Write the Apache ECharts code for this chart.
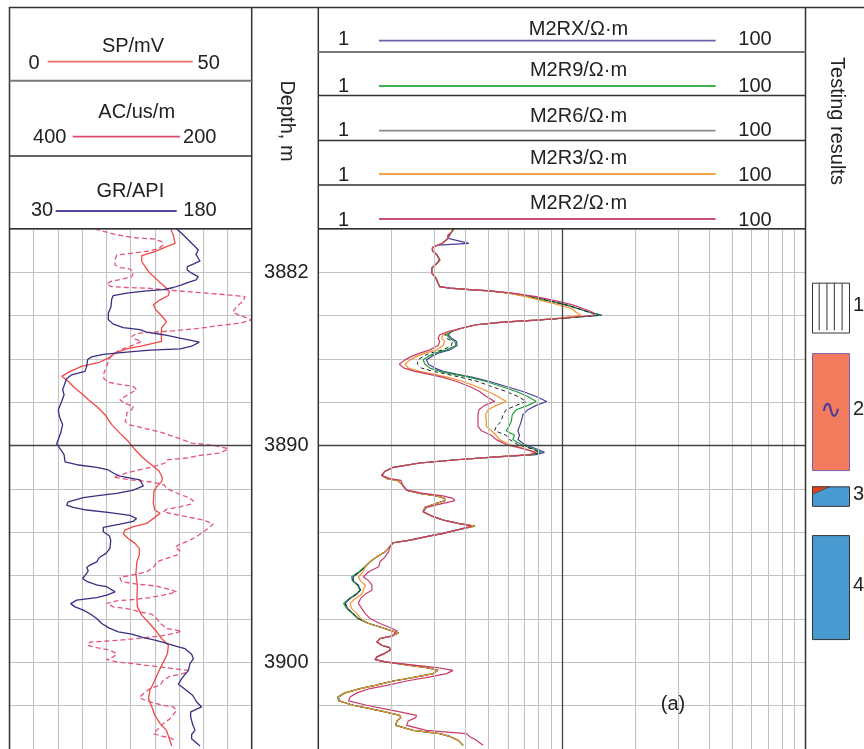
<!DOCTYPE html>
<html><head><meta charset="utf-8">
<script src="https://cdn.jsdelivr.net/npm/echarts@6/dist/echarts.min.js"></script>
<style>html,body{margin:0;padding:0;background:#fff}#c{width:864px;height:749px}</style>
</head><body><div id="c"></div>
<script>
// ---------- scales ----------
const spRange = [0, 50];
const acRange = [400, 200];
const grRange = [30, 180];
const resRange = [1, 100];
const depthRange = [3880, 3904];
const depthTicks = [3882, 3890, 3900];
const depthMajor = [3890];
const resGridMinor = [2, 3, 4, 5, 6, 7, 8, 9, 20, 30, 40, 50, 60, 70, 80, 90];
const resGridMajor = [10];
const resNames = ['M2RX/\u03A9\u00B7m', 'M2R9/\u03A9\u00B7m', 'M2R6/\u03A9\u00B7m', 'M2R3/\u03A9\u00B7m', 'M2R2/\u03A9\u00B7m'];

// ---------- SP ----------
const spDepth = [3880.0,3880.28,3880.66,3880.81,3881.04,3881.23,3881.5,3881.74,3881.97,3882.2,
3882.43,3882.66,3882.89,3883.07,3883.27,3883.5,3883.73,3883.96,3884.27,3884.58,
3884.88,3885.19,3885.38,3885.53,3885.73,3885.96,3886.14,3886.34,3886.57,3886.8,
3887.03,3887.34,3887.65,3887.88,3888.19,3888.57,3889.03,3889.42,3889.8,3890.18,
3890.57,3890.88,3891.18,3891.49,3891.66,3891.89,3892.12,3892.66,3892.97,3893.12,
3893.31,3893.59,3893.74,3893.9,3894.08,3894.28,3894.51,3894.74,3895.05,3895.36,
3895.9,3896.51,3897.05,3897.44,3897.82,3898.21,3898.59,3898.9,3899.21,3899.6,
3899.98,3900.37,3900.83,3901.29,3901.68,3902.06,3902.45,3902.83,3903.14,3903.6,
3903.86];
const spValue = [33.3,33.8,34.2,32.4,30.0,27.3,27.3,28.0,28.7,29.8,
30.9,32.1,33.0,32.8,31.1,29.7,30.2,31.2,32.4,31.4,
31.3,31.4,27.6,24.2,21.8,20.4,18.7,14.9,12.5,10.8,
12.1,13.5,15.2,16.3,18.0,19.7,21.1,22.8,24.5,25.9,
27.6,29.3,30.9,31.6,31.4,30.4,29.8,29.7,30.0,31.1,
30.0,28.3,25.6,23.8,23.5,24.5,25.9,26.8,26.8,26.3,
26.1,26.4,26.3,26.4,27.3,28.9,30.4,31.4,32.8,32.6,
31.8,30.9,30.0,29.0,28.7,29.4,30.0,31.1,32.4,33.1,
33.5];

// ---------- GR ----------
const grDepth = [3880.0,3880.2,3880.43,3880.66,3880.81,3880.97,3881.17,3881.35,3881.47,3881.6,
3881.74,3881.89,3882.04,3882.2,3882.35,3882.46,3882.58,3882.7,3882.8,3882.86,
3882.96,3883.07,3883.23,3883.58,3883.89,3884.19,3884.39,3884.55,3884.64,3884.76,
3884.88,3885.04,3885.22,3885.41,3885.53,3885.59,3885.68,3885.79,3885.9,3886.02,
3886.34,3886.57,3886.73,3886.91,3887.11,3887.42,3887.65,3887.96,3888.34,3888.65,
3889.03,3889.42,3889.72,3889.92,3890.14,3890.41,3890.75,3890.88,3891.0,3891.12,
3891.26,3891.41,3891.58,3891.86,3892.05,3892.2,3892.29,3892.4,3892.59,3892.74,
3892.85,3892.97,3893.09,3893.22,3893.36,3893.49,3893.62,3893.77,3893.97,3894.16,
3894.36,3894.74,3894.97,3895.16,3895.36,3895.51,3895.62,3895.78,3895.93,3896.13,
3896.28,3896.44,3896.51,3896.75,3896.9,3897.01,3897.13,3897.29,3897.44,3897.59,
3897.78,3897.98,3898.21,3898.4,3898.59,3898.7,3898.86,3898.98,3899.1,3899.26,
3899.37,3899.63,3899.83,3900.06,3900.37,3900.75,3901.01,3901.21,3901.52,3901.83,
3902.06,3902.29,3902.52,3902.86,3903.14,3903.33,3903.53,3903.86];
const grValue = [133.5,136.6,139.7,142.8,144.9,146.9,145.5,146.9,148.0,144.5,
140.1,140.1,142.8,146.9,145.5,140.8,136.6,131.5,125.3,114.9,
102.6,94.3,93.3,92.9,91.2,91.2,94.3,100.5,110.8,114.9,
125.3,135.6,147.6,142.8,135.6,117.0,102.6,88.1,80.9,78.4,
77.8,76.7,68.5,65.4,64.4,62.9,63.8,62.3,60.2,60.9,
62.9,61.7,60.2,59.2,61.3,63.8,64.4,71.6,84.0,91.2,
94.3,98.4,110.8,112.9,106.7,96.4,86.0,75.7,66.4,65.4,
69.5,77.8,92.2,104.6,108.7,106.7,98.4,88.1,88.1,91.8,
92.7,92.2,89.8,85.6,84.0,79.8,77.8,78.8,77.4,75.3,
78.2,84.4,90.2,95.4,90.2,84.0,71.6,67.9,70.6,75.7,
80.3,84.0,87.1,91.2,97.4,105.7,112.9,120.1,126.3,133.5,
138.7,142.8,143.9,141.8,140.8,136.6,134.6,138.1,143.4,145.9,
149.0,142.2,142.2,143.4,144.9,142.8,142.8,148.0];

// ---------- AC ----------
const acDepth = [3880.0,3880.25,3880.4,3880.46,3880.58,3880.74,3880.89,3881.01,3881.11,3881.2,
3881.43,3881.66,3881.78,3881.84,3882.0,3882.2,3882.3,3882.43,3882.55,3882.66,
3882.7,3882.73,3882.81,3882.89,3882.96,3883.04,3883.12,3883.32,3883.58,3883.84,
3883.99,3884.19,3884.35,3884.45,3884.58,3884.7,3884.76,3884.82,3884.96,3885.07,
3885.19,3885.3,3885.42,3885.58,3885.73,3885.93,3886.14,3886.42,3886.73,3886.91,
3887.07,3887.16,3887.27,3887.42,3887.57,3887.73,3887.88,3888.03,3888.19,3888.34,
3888.49,3888.72,3888.88,3889.03,3889.12,3889.22,3889.37,3889.52,3889.68,3889.88,
3889.98,3890.14,3890.34,3890.45,3890.57,3890.66,3890.8,3890.95,3891.11,3891.26,
3891.45,3891.58,3891.68,3891.8,3891.97,3892.12,3892.28,3892.39,3892.54,3892.69,
3892.82,3892.94,3893.05,3893.16,3893.28,3893.43,3893.62,3893.82,3894.02,3894.2,
3894.43,3894.54,3894.7,3894.85,3895.05,3895.2,3895.36,3895.59,3895.82,3895.93,
3896.08,3896.28,3896.39,3896.48,3896.64,3896.75,3896.9,3897.01,3897.1,3897.16,
3897.28,3897.44,3897.52,3897.67,3897.78,3897.98,3898.21,3898.44,3898.56,3898.67,
3898.79,3898.87,3898.95,3899.01,3899.07,3899.21,3899.32,3899.44,3899.6,3899.75,
3899.87,3899.98,3900.06,3900.14,3900.21,3900.29,3900.37,3900.52,3900.64,3900.83,
3901.06,3901.21,3901.45,3901.63,3901.78,3901.98,3902.06,3902.22,3902.4,3902.6,
3902.83,3903.14,3903.29,3903.39,3903.48,3903.63];
const acValue = [329.4,312.9,297.7,281.2,274.4,273.0,276.3,284.0,297.7,311.5,
312.9,312.9,308.2,300.5,297.7,299.1,306.0,317.0,319.8,315.6,
303.2,286.7,270.2,253.7,237.2,220.7,205.5,206.9,212.4,215.7,
209.7,200.0,209.7,226.2,242.7,264.7,281.2,295.0,299.1,296.4,
290.9,295.6,300.5,308.8,312.9,317.0,318.4,320.3,322.5,322.0,
318.4,310.1,297.7,295.0,299.9,304.6,308.8,305.5,297.7,299.1,
303.2,303.2,304.6,301.8,295.0,286.7,275.7,267.5,259.2,249.6,
231.7,219.4,226.2,242.7,253.7,270.2,271.6,279.9,292.3,303.2,
314.3,300.0,282.0,272.5,270.2,264.7,257.8,252.3,248.2,249.6,
259.2,270.2,273.0,264.7,253.7,239.9,231.7,235.8,241.3,245.4,
253.7,259.2,263.3,259.2,261.9,270.2,278.5,280.7,286.7,295.0,
308.8,307.4,295.0,278.5,267.5,262.0,273.0,284.0,297.7,311.5,
319.8,314.3,303.2,292.3,282.6,278.5,275.2,270.2,257.8,264.7,
275.7,289.5,303.2,317.0,333.5,335.7,328.0,317.0,311.5,314.3,
319.8,311.5,297.7,286.7,275.7,264.7,252.3,256.4,267.5,273.0,
275.7,284.0,289.5,292.8,286.7,273.0,264.7,262.0,264.7,267.5,
273.0,278.5,281.2,275.7,267.5,262.0];

// ---------- resistivity ----------
const resDepth = [3880.0,3880.15,3880.28,3880.43,3880.66,3880.74,3880.86,3881.01,3881.2,3881.43,
3881.63,3881.81,3882.04,3882.27,3882.5,3882.66,3882.73,3882.8,3882.86,3882.96,
3883.12,3883.32,3883.5,3883.69,3883.84,3883.98,3884.12,3884.21,3884.3,3884.42,
3884.58,3884.73,3884.88,3885.04,3885.19,3885.38,3885.58,3885.73,3885.88,3886.04,
3886.24,3886.42,3886.57,3886.7,3886.85,3887.04,3887.27,3887.5,3887.73,3887.96,
3888.14,3888.34,3888.57,3888.88,3889.11,3889.31,3889.52,3889.72,3889.95,3890.14,
3890.31,3890.41,3890.52,3890.65,3890.8,3891.0,3891.18,3891.37,3891.52,3891.6,
3891.82,3892.05,3892.2,3892.32,3892.43,3892.54,3892.66,3892.85,3893.05,3893.25,
3893.43,3893.59,3893.71,3893.86,3894.05,3894.2,3894.36,3894.48,3894.67,3894.9,
3895.13,3895.36,3895.59,3895.82,3896.05,3896.24,3896.44,3896.67,3896.85,3897.05,
3897.28,3897.52,3897.75,3897.98,3898.21,3898.39,3898.55,3898.64,3898.79,3898.9,
3899.06,3899.21,3899.32,3899.44,3899.6,3899.75,3899.87,3899.98,3900.14,3900.24,
3900.37,3900.52,3900.67,3900.86,3901.06,3901.21,3901.41,3901.6,3901.78,3901.98,
3902.14,3902.29,3902.45,3902.55,3902.71,3902.91,3903.14,3903.29,3903.42,3903.6,
3903.83];
const m2rx = [3.60,3.52,3.46,3.41,4.15,3.10,2.94,2.94,3.07,3.15,
3.04,2.92,2.92,3.04,3.10,3.15,3.46,4.18,5.05,6.09,
7.35,8.88,10.38,11.77,12.93,14.6,10.06,7.83,5.72,4.45,
3.86,3.52,3.41,3.52,3.69,3.71,3.46,3.10,2.92,2.78,
2.83,3.01,3.25,3.69,4.31,5.05,5.90,6.91,7.83,8.65,
7.83,7.24,6.91,6.80,6.69,6.59,6.69,6.59,7.02,7.83,
8.47,7.83,5.37,3.69,2.61,2.03,1.88,1.82,1.91,2.11,
2.22,2.30,2.61,3.06,3.30,3.30,3.06,2.74,2.69,2.92,
3.25,3.75,4.38,3.80,3.25,2.78,2.38,2.03,1.96,1.88,
1.74,1.63,1.56,1.48,1.39,1.39,1.46,1.49,1.44,1.35,
1.29,1.32,1.39,1.46,1.61,1.82,2.00,2.13,2.00,1.79,
1.74,1.82,1.96,1.97,1.86,1.74,1.71,1.88,2.38,2.78,
3.10,2.96,2.53,2.03,1.71,1.49,1.29,1.21,1.22,1.39,
1.63,1.88,2.16,2.18,2.10,2.08,2.45,3.15,3.46,3.75,
3.93];
const m2r9 = [3.55,3.52,3.41,3.41,3.23,3.10,2.94,2.94,3.07,3.15,
3.04,2.92,2.92,3.04,3.10,3.15,3.46,4.18,5.05,6.09,
7.35,8.88,10.38,11.77,12.93,14.4,10.06,7.83,5.72,4.45,
3.86,3.52,3.36,3.46,3.63,3.67,3.36,3.01,2.83,2.69,
2.74,2.87,3.15,3.57,4.18,4.89,5.63,6.49,7.24,7.83,
7.24,6.49,6.25,6.19,6.05,5.90,6.38,6.28,6.80,7.59,
8.20,7.59,5.37,3.69,2.61,2.03,1.88,1.82,1.91,2.11,
2.22,2.30,2.61,3.06,3.30,3.30,3.06,2.74,2.69,2.92,
3.25,3.75,4.38,3.80,3.25,2.78,2.38,2.03,1.96,1.88,
1.74,1.63,1.55,1.47,1.37,1.38,1.45,1.48,1.43,1.34,
1.27,1.31,1.38,1.45,1.61,1.82,2.00,2.13,2.00,1.79,
1.74,1.82,1.96,1.97,1.86,1.74,1.71,1.88,2.38,2.78,
3.10,2.96,2.53,2.03,1.71,1.48,1.28,1.20,1.21,1.39,
1.63,1.88,2.16,2.18,2.10,2.08,2.45,3.15,3.46,3.75,
3.93];
const m2r6 = [3.57,3.52,3.41,3.41,3.23,3.10,2.94,2.94,3.07,3.15,
3.04,2.92,2.92,3.04,3.10,3.15,3.46,4.18,5.05,6.09,
7.35,8.88,10.38,11.77,12.93,14.1,10.06,7.83,5.72,4.45,
3.86,3.52,3.30,3.36,3.55,3.52,3.25,2.87,2.69,2.57,
2.55,2.65,2.96,3.36,3.86,4.52,5.13,5.90,6.59,7.13,
6.49,5.90,5.72,5.63,5.37,5.29,5.90,6.09,6.59,7.47,
8.08,7.59,5.37,3.69,2.61,2.03,1.88,1.82,1.91,2.11,
2.22,2.30,2.61,3.06,3.30,3.30,3.06,2.74,2.69,2.92,
3.25,3.75,4.38,3.80,3.25,2.78,2.38,2.03,1.96,1.88,
1.74,1.63,1.56,1.48,1.39,1.39,1.46,1.49,1.44,1.35,
1.29,1.32,1.39,1.46,1.61,1.82,2.00,2.13,2.00,1.79,
1.74,1.82,1.96,1.97,1.86,1.74,1.71,1.88,2.38,2.78,
3.10,2.96,2.53,2.03,1.71,1.49,1.29,1.21,1.22,1.39,
1.63,1.88,2.16,2.18,2.10,2.08,2.45,3.15,3.46,3.75,
3.93];
const m2r3 = [3.52,3.52,3.41,3.41,3.23,3.10,2.94,2.94,3.07,3.15,
3.04,2.92,2.92,3.04,3.10,3.15,3.46,4.18,5.05,5.99,
7.13,8.33,9.75,11.05,11.40,11.96,9.45,7.83,5.72,4.45,
3.86,3.46,3.25,3.20,3.30,3.25,3.06,2.74,2.53,2.38,
2.27,2.34,2.61,2.96,3.41,3.93,4.45,4.97,5.46,5.90,
5.37,4.97,4.86,4.89,4.89,5.13,5.37,5.54,6.09,7.02,
7.71,7.35,5.37,3.69,2.61,2.03,1.88,1.82,1.91,2.11,
2.22,2.30,2.61,3.06,3.30,3.30,3.06,2.74,2.69,2.92,
3.25,3.75,4.38,3.80,3.25,2.78,2.38,2.03,1.96,1.88,
1.74,1.63,1.56,1.53,1.46,1.49,1.56,1.53,1.51,1.42,
1.35,1.37,1.44,1.49,1.61,1.82,2.00,2.13,2.00,1.79,
1.74,1.82,1.96,1.97,1.86,1.74,1.71,1.88,2.38,2.78,
3.10,2.96,2.53,2.03,1.71,1.49,1.29,1.21,1.22,1.39,
1.63,1.88,2.16,2.18,2.10,2.08,2.45,3.15,3.46,3.75,
3.93];
const m2r2 = [3.60,3.52,3.41,3.41,3.23,3.10,2.94,2.94,3.07,3.15,
3.04,2.92,2.92,3.04,3.10,3.15,3.46,4.18,5.05,6.28,
7.83,9.45,11.05,12.33,13.34,13.50,10.06,7.83,5.72,4.45,
3.86,3.41,3.15,3.10,3.15,3.10,2.87,2.61,2.41,2.27,
2.15,2.25,2.49,2.83,3.25,3.69,4.18,4.59,4.89,5.29,
4.81,4.56,4.52,4.52,4.52,4.67,5.13,5.37,5.90,6.91,
7.83,7.47,5.37,3.69,2.61,2.03,1.88,1.82,1.97,2.18,
2.22,2.30,2.69,3.25,3.57,3.63,3.25,2.78,2.69,2.92,
3.25,3.75,4.25,3.80,3.25,2.78,2.38,2.03,1.97,1.94,
1.88,1.79,1.77,1.61,1.53,1.61,1.66,1.66,1.56,1.49,
1.46,1.51,1.56,1.63,1.79,1.97,2.11,2.15,2.00,1.79,
1.74,1.82,1.96,1.97,1.86,1.74,1.71,1.88,2.53,3.06,
3.57,3.36,2.87,2.30,1.91,1.63,1.44,1.35,1.33,1.58,
1.85,2.16,2.53,2.51,2.34,2.30,2.78,4.05,4.18,4.45,
4.74];

// ---------- testing results ----------
const testTop = [3882.5, 3885.75, 3891.9, 3894.15];
const testBottom = [3884.8, 3891.15, 3892.8, 3898.95];
const testType = [1, 2, 3, 4];
const testLabels = ['1', '2', '3', '4'];

// ---------- rendering ----------
const F = '"Liberation Sans", Arial, Helvetica, sans-serif';
const GRID = '#c2c2c2';
const DARK = '#333';
const TXT = '#222';

function L(x1, y1, x2, y2, c, w) {
  return {type: 'line', z: 100, silent: true, shape: {x1, y1, x2, y2}, style: {stroke: c || DARK, lineWidth: w || 1.5}};
}
function T(x, y, s, extra) {
  return Object.assign({type: 'text', z: 100, silent: true, x, y,
    style: {text: s, font: '20px ' + F, fill: TXT, align: 'center', verticalAlign: 'middle', textAlign: 'center', textVerticalAlign: 'middle'}}, extra || {});
}

const graphics = [];
// frame
graphics.push(L(9, 7.5, 864, 7.5));
[9.5, 251.7, 318.3, 805.5].forEach(x => graphics.push(L(x, 7, x, 749)));
graphics.push(L(9.5, 80.7, 251.7, 80.7, '#777', 2));
graphics.push(L(9.5, 156, 251.7, 156));
graphics.push(L(9.5, 228.7, 251.7, 228.7));
graphics.push(L(318.3, 52, 805.5, 52, '#777', 2));
[95.5, 140.5, 185, 228.7].forEach(y => graphics.push(L(318.3, y, 805.5, y)));
// left header
graphics.push(T(133, 46, 'SP/mV'), T(34, 63.5, String(spRange[0])), T(208.7, 63.5, String(spRange[1])), L(47.7, 61.7, 192.7, 61.7, '#F26B6B', 1.8));
graphics.push(T(136.7, 112, 'AC/us/m'), T(49.7, 137.5, String(acRange[0])), T(199.7, 137.5, String(acRange[1])), L(72.7, 136.7, 180, 136.7, '#E04A6E', 1.8));
graphics.push(T(130.3, 191, 'GR/API'), T(42, 210.7, String(grRange[0])), T(200, 210.7, String(grRange[1])), L(55.7, 211, 176.7, 211, '#54449A', 1.8));
// resistivity header
const resLegendColors = ['#6B5FA8', '#3DB24E', '#8A8A8A', '#F2A444', '#C54E7C'];
const hdrTitleY = [29, 70.7, 116.7, 158, 203.7];
const hdrLineY = [40.7, 86, 130.7, 174, 219];
const hdrLblY = [39.5, 86.5, 130.5, 175.5, 220.5];
resNames.forEach((n, i) => {
  graphics.push(T(578.5, hdrTitleY[i], n));
  graphics.push(L(379, hdrLineY[i], 715.6, hdrLineY[i], resLegendColors[i], 1.8));
  graphics.push(T(343.6, hdrLblY[i], String(resRange[0])));
  graphics.push(T(755, hdrLblY[i], String(resRange[1])));
});
graphics.push(T(286.5, 121, 'Depth, m', {rotation: -Math.PI / 2}));
graphics.push(T(837, 121, 'Testing results', {rotation: -Math.PI / 2}));
graphics.push(T(673, 704, '(a)'));

function curve(name, xi, yi, depth, vals, color, width, dash, z) {
  return {type: 'line', name, xAxisIndex: xi, yAxisIndex: yi,
    data: depth.map((d, i) => [vals[i], d]),
    symbol: 'none', showSymbol: false, silent: true, animation: false, z: z || 3,
    lineStyle: {color, width, type: dash || 'solid'}};
}

function renderTest(params, api) {
  const cs = params.coordSys;
  const y0 = api.coord([0, api.value(0)])[1];
  const y1 = api.coord([0, api.value(1)])[1];
  const t = api.value(2);
  const x0 = cs.x + 6.5, w = 37, h = y1 - y0;
  const kids = [];
  const fill = t === 1 ? '#ffffff' : (t === 2 ? '#F47C5E' : '#4A9AD2');
  const stroke = t === 2 ? '#7B62A8' : '#333';
  kids.push({type: 'rect', shape: {x: x0, y: y0, width: w, height: h}, style: {fill, stroke, lineWidth: 1}});
  if (t === 1) {
    [0.18, 0.39, 0.59, 0.8].forEach(f => kids.push({type: 'line', shape: {x1: x0 + w * f, y1: y0, x2: x0 + w * f, y2: y1 - 2.7}, style: {stroke: '#333', lineWidth: 1}}));
  }
  if (t === 2) {
    kids.push({type: 'text', x: x0 + w / 2, y: (y0 + y1) / 2 - 1, style: {text: '\u223F', font: '26px "DejaVu Sans", sans-serif', fill: '#4A3A9A', align: 'center', verticalAlign: 'middle', textAlign: 'center', textVerticalAlign: 'middle'}});
  }
  if (t === 3) {
    kids.push({type: 'polygon', shape: {points: [[x0, y0], [x0 + w * 0.46, y0], [x0, y0 + h * 0.38]]}, style: {fill: '#D9441C', stroke: '#333', lineWidth: 0.6}});
  }
  kids.push({type: 'text', x: x0 + w + 3.5, y: (y0 + y1) / 2 - 2.5,
    style: {text: testLabels[params.dataIndex], font: '20px ' + F, fill: TXT, align: 'left', verticalAlign: 'middle', textAlign: 'left', textVerticalAlign: 'middle'}});
  return {type: 'group', children: kids};
}

const noAxis = {axisLine: {show: false}, axisTick: {show: false}, axisLabel: {show: false}};
const option = {
  animation: false,
  backgroundColor: '#ffffff',
  grid: [
    {left: 9.5, top: 229, width: 242.2, height: 522},
    {left: 318.3, top: 229, width: 487.5, height: 522},
    {left: 806, top: 229, width: 58, height: 522}
  ],
  xAxis: [
    Object.assign({gridIndex: 0, type: 'value', min: spRange[0], max: spRange[1], interval: 5, position: 'top',
      splitLine: {show: true, lineStyle: {color: GRID, width: 1.1}}}, noAxis),
    {gridIndex: 0, type: 'value', min: acRange[1], max: acRange[0], inverse: true, show: false},
    {gridIndex: 0, type: 'value', min: grRange[0], max: grRange[1], show: false},
    {gridIndex: 1, type: 'log', logBase: 10, min: resRange[0], max: resRange[1], show: false},
    {gridIndex: 2, type: 'value', min: 0, max: 58, show: false}
  ],
  yAxis: [
    Object.assign({gridIndex: 0, type: 'value', inverse: true, min: depthRange[0], max: depthRange[1], interval: 2,
      splitLine: {show: true, lineStyle: {color: GRID, width: 1.1}}}, noAxis),
    {gridIndex: 1, type: 'value', inverse: true, min: depthRange[0], max: depthRange[1], interval: 2,
      axisLine: {show: false}, axisTick: {show: false},
      axisLabel: {show: true, margin: 32, align: 'center', fontSize: 20, fontFamily: F, color: TXT,
        formatter: v => depthTicks.indexOf(v) >= 0 ? String(v) : ''},
      splitLine: {show: true, lineStyle: {color: GRID, width: 1.1}}},
    {gridIndex: 2, type: 'value', inverse: true, min: depthRange[0], max: depthRange[1], show: false}
  ],
  graphic: {elements: graphics},
  series: [
    {type: 'line', xAxisIndex: 0, yAxisIndex: 0, data: [], z: 1, silent: true,
      markLine: {silent: true, symbol: 'none', animation: false, label: {show: false},
        lineStyle: {color: '#444', width: 1.3, type: 'solid'},
        data: depthMajor.map(v => ({yAxis: v}))}},
    {type: 'line', xAxisIndex: 3, yAxisIndex: 1, data: [], z: 1, silent: true,
      markLine: {silent: true, symbol: 'none', animation: false, label: {show: false},
        lineStyle: {color: GRID, width: 1.1, type: 'solid'},
        data: resGridMinor.map(v => ({xAxis: v}))
          .concat(resGridMajor.map(v => ({xAxis: v, lineStyle: {color: '#444', width: 1.3, type: 'solid'}})))
          .concat(depthMajor.map(v => ({yAxis: v, lineStyle: {color: '#444', width: 1.3, type: 'solid'}})))}},
    curve('SP', 0, 0, spDepth, spValue, '#EF4A44', 1.3),
    curve('AC', 1, 0, acDepth, acValue, '#E5537D', 1.3, [5, 3]),
    curve('GR', 2, 0, grDepth, grValue, '#3B2D83', 1.3),
    curve('M2RX', 3, 1, resDepth, m2rx, '#4B3D9A', 1.2),
    curve('M2R9', 3, 1, resDepth, m2r9, '#1F9E3C', 1.2),
    curve('M2R6', 3, 1, resDepth, m2r6, '#222222', 1.0, [4, 3]),
    curve('M2R3', 3, 1, resDepth, m2r3, '#F0952D', 1.2),
    curve('M2R2', 3, 1, resDepth, m2r2, '#C93A6C', 1.2),
    {type: 'custom', xAxisIndex: 4, yAxisIndex: 2, silent: true, animation: false, z: 5,
      encode: {y: [0, 1]},
      data: testTop.map((t, i) => [t, testBottom[i], testType[i]]),
      renderItem: renderTest}
  ]
};
const chart = echarts.init(document.getElementById('c'), null, {renderer: 'canvas', width: 864, height: 749});
chart.setOption(option);
</script></body></html>
